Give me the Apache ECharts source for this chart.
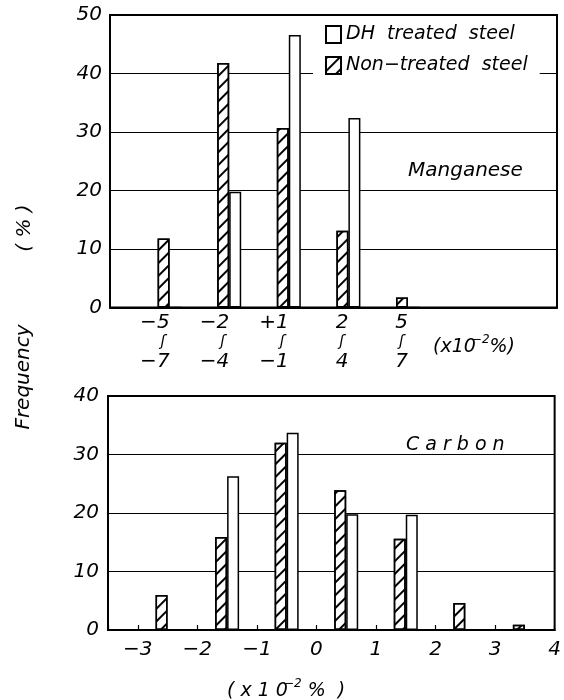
<!DOCTYPE html>
<html>
<head>
<meta charset="utf-8">
<script src="https://cdn.jsdelivr.net/npm/echarts@6/dist/echarts.min.js"></script>
<style>
  html, body { margin: 0; padding: 0; background: #fff; }
  #chart { width: 564px; height: 700px; }
</style>
</head>
<body>
<div id="chart"></div>
<script>
// ---------- DATA ----------
// Manganese (top chart): class positions and their labels
const mnPos = [1, 2, 3, 4, 5];
const mnLabelTop = ['−5', '−2', '+1', '2', '5'];
const mnLabelBottom = ['−7', '−4', '−1', '4', '7'];
const mnNonTreated = [11.8, 41.8, 30.7, 13.1, 1.7];
const mnDHTreated = [0, 19.8, 46.6, 32.4, 0];

// Carbon (bottom chart)
const cPos = [-2.5, -1.5, -0.5, 0.5, 1.5, 2.5, 3.5];
const cNonTreated = [6.0, 15.9, 32.0, 23.9, 15.6, 4.6, 0.9];
const cDHTreated = [0, 26.3, 33.7, 19.8, 19.7, 0, 0];
const cTickLabels = [-3, -2, -1, 0, 1, 2, 3, 4];

const seriesNames = ['DH treated steel', 'Non-treated steel'];
const legendLabels = ['DH  treated  steel', 'Non−treated  steel'];

// ---------- STYLE ----------
const FONT = 'DejaVu Sans';
const ital = { fontFamily: FONT, fontStyle: 'italic', color: '#000' };
const hatch = {
  symbol: 'rect', symbolSize: 1, color: '#000',
  dashArrayX: [1, 0], dashArrayY: [1.2, 6.5], rotation: -Math.PI / 4
};
const nonStyle = { color: '#fff', borderColor: '#000', borderWidth: 1.5, decal: hatch };
const dhStyle = { color: '#fff', borderColor: '#000', borderWidth: 1.5 };

function zip(xs, ys) { return xs.map((x, i) => [x, ys[i]]); }

const chart = echarts.init(document.getElementById('chart'), null, { renderer: 'canvas' });

const option = {
  animation: false,
  backgroundColor: '#fff',
  grid: [
    { left: 110, right: 7, top: 15, bottom: 392.5, show: true, borderColor: '#000', borderWidth: 2, backgroundColor: 'transparent' },
    { left: 108, right: 7, top: 396, bottom: 70, show: true, borderColor: '#000', borderWidth: 2, backgroundColor: 'transparent' }
  ],
  xAxis: [
    {
      gridIndex: 0, type: 'value', min: 0, max: 7.5, interval: 1,
      axisLine: { show: true, lineStyle: { color: '#000', width: 2 } },
      axisTick: { show: false }, splitLine: { show: false },
      axisLabel: {
        align: 'right', margin: 5,
        formatter: function (v) {
          const i = mnPos.indexOf(v);
          if (i < 0) return '';
          return '{a|' + mnLabelTop[i] + '}\n{w|ʃ}\n{a|' + mnLabelBottom[i] + '}';
        },
        rich: {
          a: Object.assign({ fontSize: 20, lineHeight: 20 }, ital),
          w: Object.assign({ fontSize: 15, lineHeight: 19, padding: [0, 4, 0, 0] }, ital)
        }
      }
    },
    {
      gridIndex: 1, type: 'value', min: -3.5, max: 4, minInterval: 1, maxInterval: 1, splitNumber: 8,
      axisLine: { show: true, lineStyle: { color: '#000', width: 2 } },
      axisTick: { show: true, inside: true, length: 5, lineStyle: { color: '#000', width: 1.2 } },
      splitLine: { show: false },
      axisLabel: Object.assign({
        fontSize: 20, margin: 10,
        formatter: function (v) {
          if (cTickLabels.indexOf(v) < 0) return '';
          return String(v).replace('-', '−');
        }
      }, ital)
    }
  ],
  yAxis: [
    {
      gridIndex: 0, type: 'value', min: 0, max: 50, interval: 10,
      axisLine: { show: false }, axisTick: { show: false },
      splitLine: { show: true, lineStyle: { color: '#000', width: 1.2 } },
      axisLabel: Object.assign({ fontSize: 20, margin: 8 }, ital)
    },
    {
      gridIndex: 1, type: 'value', min: 0, max: 40, interval: 10,
      axisLine: { show: false }, axisTick: { show: false },
      splitLine: { show: true, lineStyle: { color: '#000', width: 1.2 } },
      axisLabel: Object.assign({ fontSize: 20, margin: 9 }, ital)
    }
  ],
  legend: {
    data: seriesNames,
    orient: 'vertical',
    left: 313, top: 22,
    itemWidth: 15, itemHeight: 17, itemGap: 12,
    padding: [3, 12, 6, 12],
    backgroundColor: '#fff',
    icon: 'rect',
    textStyle: Object.assign({ fontSize: 19, padding: [0, 0, 0, 0] }, ital),
    formatter: function (name) { return legendLabels[seriesNames.indexOf(name)]; },
    selectedMode: false
  },
  title: [
    { text: 'Manganese', left: 403, top: 154, textStyle: Object.assign({ fontSize: 20, fontWeight: 'normal', lineHeight: 24 }, ital) },
    { text: 'C a r b o n', left: 401, top: 428, textStyle: Object.assign({ fontSize: 19, fontWeight: 'normal', lineHeight: 24 }, ital) },
    {
      text: '(x10{s|−2}%)', left: 428, top: 330,
      textStyle: Object.assign({
        fontSize: 19, fontWeight: 'normal', lineHeight: 24,
        rich: { s: Object.assign({ fontSize: 12, lineHeight: 24, padding: [0, 0, 14, -4] }, ital) }
      }, ital)
    },
    {
      text: '( x 1 0{s|−2} %  )', left: 222, top: 674,
      textStyle: Object.assign({
        fontSize: 19, fontWeight: 'normal', lineHeight: 24,
        rich: { s: Object.assign({ fontSize: 12, lineHeight: 24, padding: [0, 0, 14, -4] }, ital) }
      }, ital)
    }
  ],
  graphic: [
    { type: 'text', x: 24, y: 377, rotation: Math.PI / 2,
      style: { text: 'Frequency', font: 'italic 20px "DejaVu Sans"', fill: '#000', textAlign: 'center', textVerticalAlign: 'middle' } },
    { type: 'text', x: 25, y: 228, rotation: Math.PI / 2,
      style: { text: '( % )', font: 'italic 20px "DejaVu Sans"', fill: '#000', textAlign: 'center', textVerticalAlign: 'middle' } }
  ],
  series: [
    { name: seriesNames[1], type: 'bar', xAxisIndex: 0, yAxisIndex: 0, barWidth: 12, barGap: '0%',
      itemStyle: nonStyle, data: zip(mnPos, mnNonTreated) },
    { name: seriesNames[0], type: 'bar', xAxisIndex: 0, yAxisIndex: 0, barWidth: 12, barGap: '0%',
      itemStyle: dhStyle, data: zip(mnPos, mnDHTreated) },
    { name: seriesNames[1], type: 'bar', xAxisIndex: 1, yAxisIndex: 1, barWidth: 12, barGap: '0%',
      itemStyle: nonStyle, data: zip(cPos, cNonTreated) },
    { name: seriesNames[0], type: 'bar', xAxisIndex: 1, yAxisIndex: 1, barWidth: 12, barGap: '0%',
      itemStyle: dhStyle, data: zip(cPos, cDHTreated) }
  ]
};
chart.setOption(option);
</script>
</body>
</html>
